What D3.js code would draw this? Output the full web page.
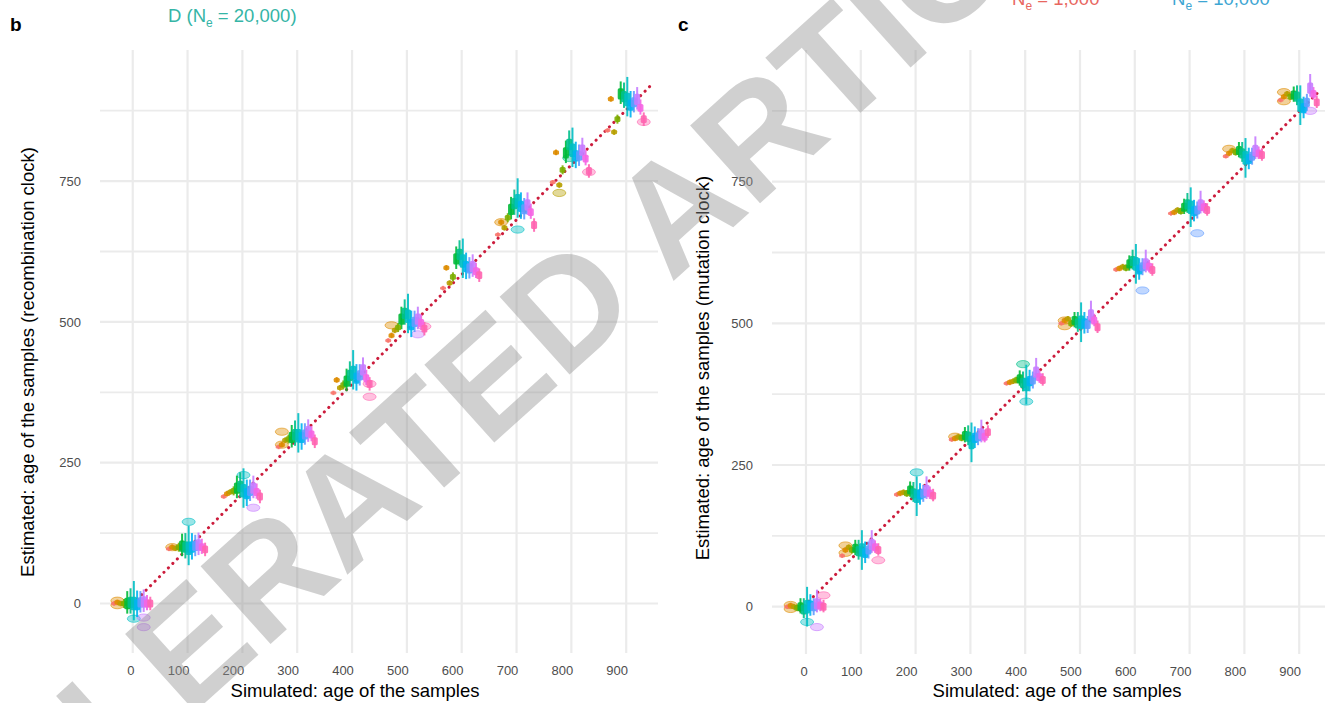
<!DOCTYPE html>
<html><head><meta charset="utf-8">
<script src="https://cdn.jsdelivr.net/npm/d3@7/dist/d3.min.js"></script>
<style>
body{margin:0;background:#fff;overflow:hidden;}
svg{display:block;font-family:"Liberation Sans",Arial,Helvetica,sans-serif;}
</style>
</head><body>
<svg id="chart" width="1325" height="703"></svg>
<script>
// ---------- data ----------
const simAges = [0,100,200,300,400,500,600,700,800,900];
const xTicks = [0,100,200,300,400,500,600,700,800,900];
const yTicks = [0,250,500,750];
const yMinorTicks = [125,375,625,875];
const seriesColors = ["#F8766D","#DE8C00","#B79F00","#7CAE00","#00BA38","#00C08B",
                      "#00BFC4","#00B4F0","#619CFF","#C77CFF","#F564E3","#FF64B0"];
const dodgeOffsets = [-34,-28,-22,-16,-10,-4,2,8,14,20,26,32];

// panel b (recombination clock): median estimate per series per simulated age
const medianB = [
  [0, 97,190,278,374,467,560,655,748,840],
  [2,100,195,282,397,476,596,677,801,896],
  [0, 98,198,290,383,485,569,667,743,837],
  [0,100,200,292,388,490,580,685,770,860],
  [0,102,205,295,395,505,612,700,800,905],
  [2,100,208,300,405,515,620,710,815,900],
  [0, 98,200,298,410,510,608,715,805,895],
  [-2,100,195,295,400,495,598,705,795,885],
  [2,102,200,300,405,500,595,700,795,890],
  [3,104,205,305,415,505,598,708,805,895],
  [0,100,198,300,400,498,590,695,790,880],
  [0, 96,190,288,390,488,583,672,768,860]
];
const whiskerUpB   = [4,5,5,8,22,25,40,25,20,22,15,12];
const whiskerDownB = [4,5,5,8,18,20,30,22,18,18,12,12];
const boxHalfB     = [3,4,4,5,10,10,12,10,9,10,7,7];
// outliers: [series, simulated age, estimate]
const outliersB = [
  [1,0,5],[1,0,-3],[6,0,-27],[9,0,-25],[9,0,-42],
  [1,100,100],[6,100,145],
  [6,200,228],[9,200,170],
  [1,300,305],[1,300,282],
  [11,400,390],[11,400,367],
  [1,500,494],[9,500,478],[11,500,492],
  [1,700,677],[6,700,664],
  [5,800,791],[11,800,766],[2,800,729],
  [11,900,855]
];

// panel c (mutation clock)
const medianC = [
  [0, 90,198,295,394,500,595,694,795,894],
  [2,100,200,297,396,505,597,696,800,900],
  [0,105,202,300,398,508,600,700,805,905],
  [-2,100,200,298,400,500,598,698,802,900],
  [0,103,206,302,402,505,605,705,805,903],
  [-5,98,200,300,395,500,610,710,800,900],
  [0,100,195,290,392,502,605,705,792,885],
  [2, 95,198,298,398,500,595,698,790,880],
  [0,100,200,300,400,498,600,700,795,890],
  [5,110,205,305,414,515,605,709,805,915],
  [2,105,200,300,405,505,600,705,800,905],
  [0,100,196,308,400,493,594,700,797,890]
];
const whiskerUpC   = [4,5,5,6,15,20,35,20,15,25,12,12];
const whiskerDownC = [4,5,5,6,12,15,35,18,15,15,10,10];
const boxHalfC     = [3,4,4,5,8,9,12,9,8,10,7,7];
const outliersC = [
  [1,0,3],[1,0,-4],[11,0,20],[6,0,-27],[9,0,-36],
  [1,100,108],[1,100,95],[11,100,82],
  [6,200,237],[1,300,300],
  [5,400,428],[6,400,362],
  [1,500,505],[1,500,495],
  [8,600,558],[8,700,659],
  [1,800,808],[1,900,908],[1,900,892],[9,900,875]
];

// identity reference (dotted line) end points
const refLineB = {x:[0,945], y:[0,920]};
const refLineC = {x:[-11,940], y:[-6,913]};

// ---------- drawing ----------
const svg = d3.select("#chart");
const FONT = "Liberation Sans, Arial, sans-serif";

function panel(opt){
  const g = svg.append("g");
  const x = d3.scaleLinear().domain(opt.xDomain).range(opt.xRange);
  const y = d3.scaleLinear().domain(opt.yDomain).range(opt.yRange);
  const [x0,x1] = opt.xRange, [y0,y1] = opt.yRange;

  // grid
  const grid = g.append("g");
  grid.selectAll(".hmin").data(yMinorTicks).enter().append("line")
    .attr("x1",x0).attr("x2",x1).attr("y1",d=>y(d)).attr("y2",d=>y(d))
    .attr("stroke","#ebebeb").attr("stroke-width",1.8);
  grid.selectAll(".hmaj").data(yTicks).enter().append("line")
    .attr("x1",x0).attr("x2",x1).attr("y1",d=>y(d)).attr("y2",d=>y(d))
    .attr("stroke","#ebebeb").attr("stroke-width",2.2);
  grid.selectAll(".vmaj").data(xTicks).enter().append("line")
    .attr("y1",y0).attr("y2",y1).attr("x1",d=>x(d)).attr("x2",d=>x(d))
    .attr("stroke","#ebebeb").attr("stroke-width",2.2);

  // axes (labels only)
  const ax = g.append("g").attr("transform",`translate(0,${y0+13})`)
    .call(d3.axisBottom(x).tickValues(xTicks).tickSize(0).tickPadding(0));
  ax.select(".domain").remove();
  ax.selectAll("text").attr("text-anchor","end").attr("dx","0.1em")
    .attr("fill","#4d4d4d").style("font-size","13px").style("font-family",FONT);
  const ay = g.append("g").attr("transform",`translate(${x0-19},0)`)
    .call(d3.axisLeft(y).tickValues(yTicks).tickSize(0).tickPadding(0));
  ay.select(".domain").remove();
  ay.selectAll("text").attr("fill","#4d4d4d").style("font-size","13px").style("font-family",FONT);

  // dotted reference line
  const line = d3.line().x(d=>x(d[0])).y(d=>y(d[1]));
  g.append("path").datum(opt.ref.x.map((v,i)=>[v,opt.ref.y[i]]))
    .attr("d",line).attr("fill","none").attr("stroke","#cc1c3c")
    .attr("stroke-width",3).attr("stroke-linecap","round").attr("stroke-dasharray","0.1 6.2");

  // outlier ellipses
  g.append("g").selectAll("ellipse").data(opt.outliers).enter().append("ellipse")
    .attr("cx",d=>x(d[1]+dodgeOffsets[d[0]]))
    .attr("cy",d=>y(d[2]))
    .attr("rx",6.5).attr("ry",3.6)
    .attr("fill",d=>seriesColors[d[0]]).attr("fill-opacity",0.4)
    .attr("stroke",d=>seriesColors[d[0]]).attr("stroke-opacity",0.6).attr("stroke-width",1);

  // ranges
  const marks = [];
  opt.median.forEach((arr,si)=>arr.forEach((m,ci)=>marks.push({si,sim:simAges[ci],m})));
  const mg = g.append("g");
  mg.selectAll("line.w").data(marks).enter().append("line")
    .attr("x1",d=>x(d.sim+dodgeOffsets[d.si])).attr("x2",d=>x(d.sim+dodgeOffsets[d.si]))
    .attr("y1",d=>y(d.m+opt.up[d.si])).attr("y2",d=>y(d.m-opt.down[d.si]))
    .attr("stroke",d=>seriesColors[d.si]).attr("stroke-width",2).attr("stroke-opacity",0.9);
  mg.selectAll("rect.b").data(marks).enter().append("rect")
    .attr("x",d=>x(d.sim+dodgeOffsets[d.si])-3)
    .attr("width",6)
    .attr("y",d=>y(d.m+opt.box[d.si]))
    .attr("height",d=>y(d.m-opt.box[d.si])-y(d.m+opt.box[d.si]))
    .attr("rx",1.5)
    .attr("fill",d=>seriesColors[d.si]).attr("fill-opacity",0.9);

  // titles
  svg.append("text").attr("x",opt.xTitleX).attr("y",697).attr("text-anchor","middle")
    .style("font-size","18.5px").attr("fill","#000").text("Simulated: age of the samples");
  svg.append("text").attr("transform",`translate(${opt.yTitleX},${opt.yTitleY}) rotate(-90)`)
    .attr("text-anchor","middle").style("font-size","18.5px").attr("fill","#000").text(opt.yTitle);
}

panel({xDomain:[-59.7,958], xRange:[100,658], yDomain:[-87.9,982.8], yRange:[653,50],
  median:medianB, up:whiskerUpB, down:whiskerDownB, box:boxHalfB, outliers:outliersB, ref:refLineB,
  xTitleX:355, yTitleX:34, yTitleY:362, yTitle:"Estimated: age of the samples (recombination clock)"});
panel({xDomain:[-62,958], xRange:[772,1331], yDomain:[-83.5,982.4], yRange:[654,50],
  median:medianC, up:whiskerUpC, down:whiskerDownC, box:boxHalfC, outliers:outliersC, ref:refLineC,
  xTitleX:1057, yTitleX:709, yTitleY:368, yTitle:"Estimated: age of the samples (mutation clock)"});

// panel letters
svg.append("text").attr("x",10).attr("y",31).style("font-size","19px").style("font-weight","bold").text("b");
svg.append("text").attr("x",678).attr("y",31).style("font-size","19px").style("font-weight","bold").text("c");

// legend fragments
function subLabel(xp, yp, color, pre, sub, post){
  const t = svg.append("text").attr("x",xp).attr("y",yp).attr("fill",color).style("font-size","18.5px");
  t.append("tspan").text(pre);
  t.append("tspan").attr("dy",5).style("font-size","12px").text(sub);
  t.append("tspan").attr("dy",-5).text(post);
}
subLabel(168,22,"#35b5a6","D (N","e"," = 20,000)");
subLabel(1012,5,"#e8675f","N","e"," = 1,000");
subLabel(1172,5,"#3ea6d3","N","e"," = 10,000");

// watermark
const wm = svg.append("g").attr("transform","translate(565,306) rotate(-42)");
wm.append("text").attr("x",-1080).attr("y",54)
  .style("font-size","152px").style("font-weight","bold")
  .attr("fill","#8f8f8f").attr("fill-opacity",0.42)
  .text("ACCELERATED ARTICLE PREVIEW");
</script>
</body></html>
